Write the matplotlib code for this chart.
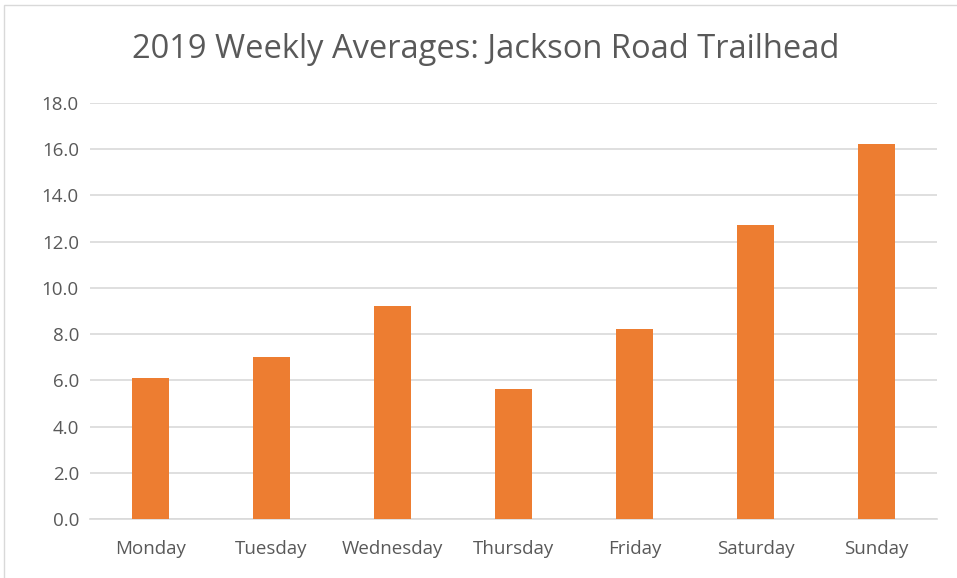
import numpy as np
import matplotlib.pyplot as plt
from matplotlib.patches import Rectangle

days = ['Monday', 'Tuesday', 'Wednesday', 'Thursday', 'Friday', 'Saturday', 'Sunday']
averages = [6.09, 7.01, 9.23, 5.63, 8.21, 12.72, 16.23]
yticks = np.arange(0, 20, 2)

plt.rcParams['font.family'] = ['Open Sans', 'DejaVu Sans']
text_color = '#595959'

fig = plt.figure(figsize=(9.57, 5.78), dpi=100)
ax = fig.add_axes([90 / 957, 1 - 519 / 578, (937 - 90) / 957, (519 - 103) / 578])

x = np.arange(len(days))
ax.bar(x, averages, width=0.31, color='#ED7D31', zorder=3)

ax.set_xlim(-0.5, len(days) - 0.5)
ax.set_ylim(0, 18)
ax.set_yticks(yticks)
ax.set_yticklabels(['%.1f' % v for v in yticks])
ax.set_xticks(x)
ax.set_xticklabels(days)
ax.tick_params(axis='both', length=0, labelsize=13.5, colors=text_color)
ax.tick_params(axis='x', pad=15)
ax.tick_params(axis='y', pad=8)
ax.grid(axis='y', color='#D9D9D9', linewidth=1.2, zorder=0)
for s in ['top', 'right', 'left']:
    ax.spines[s].set_visible(False)
ax.spines['bottom'].set_color('#D9D9D9')
ax.spines['bottom'].set_linewidth(1.2)

fig.text(486 / 957, 1 - 50 / 578, '2019 Weekly Averages: Jackson Road Trailhead',
         ha='center', va='center', fontsize=23.5, color=text_color)

# outer chart border
fig.patches.append(Rectangle((4 / 957, -0.05), 1.1, 1 - 5 / 578 + 0.05,
                             transform=fig.transFigure, fill=False,
                             edgecolor='#D9D9D9', linewidth=1))

fig.savefig('out.png', dpi=100)
